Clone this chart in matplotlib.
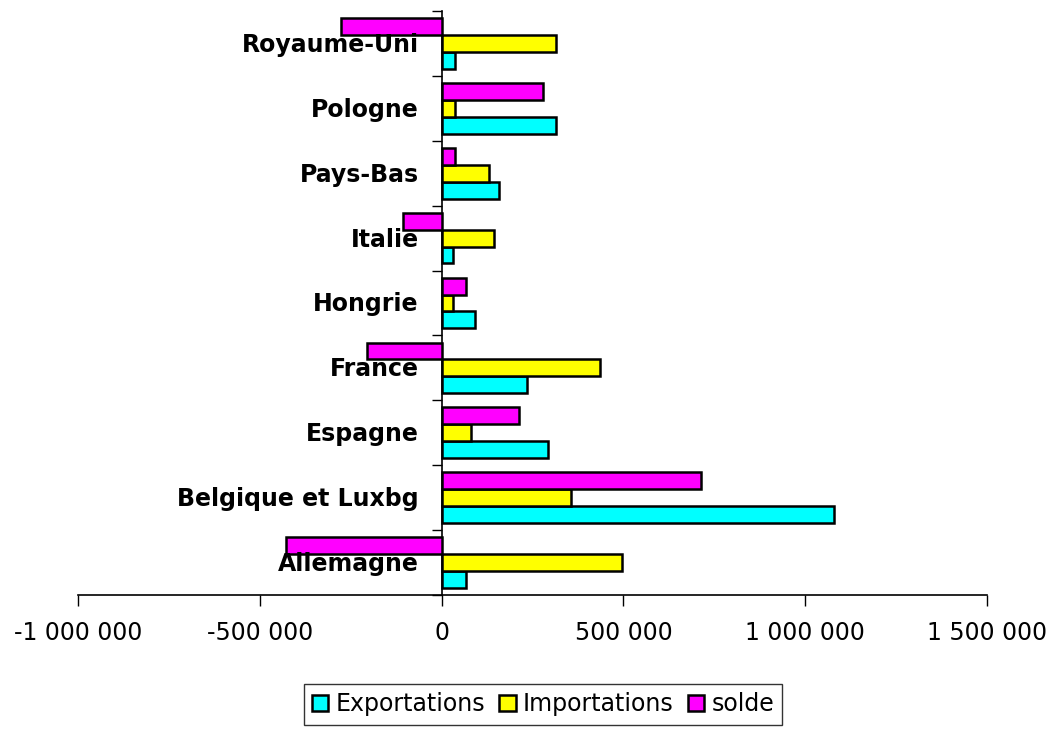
import numpy as np
import matplotlib.pyplot as plt
import matplotlib as mpl

mpl.rcParams['font.family'] = 'DejaVu Sans'
mpl.rcParams['font.size'] = 17

# Data
pays = ['Allemagne', 'Belgique et Luxbg', 'Espagne', 'France', 'Hongrie',
        'Italie', 'Pays-Bas', 'Pologne', 'Royaume-Uni']
exportations = [66000, 1080000, 294000, 236000, 93000, 30000, 157000, 316000, 38000]
importations = [495000, 357000, 80000, 437000, 30000, 143000, 129000, 38000, 316000]
solde = [-429000, 714000, 214000, -206000, 66000, -107000, 38000, 280000, -277000]
xticks = [-1000000, -500000, 0, 500000, 1000000, 1500000]

fig = plt.figure(figsize=(10.53, 7.29), dpi=100)
ax = fig.add_axes([78/1053, 1-595/729, 909/1053, 584/729])

y = np.arange(len(pays))
h = 0.26
kw = dict(height=h, edgecolor='black', linewidth=1.8, zorder=3)
ax.barh(y - h, exportations, color='#00ffff', label='Exportations', **kw)
ax.barh(y, importations, color='#ffff00', label='Importations', **kw)
ax.barh(y + h, solde, color='#ff00ff', label='solde', **kw)

ax.set_xlim(-1000000, 1500000)
ax.set_ylim(-0.5, len(pays) - 0.5)
ax.set_xticks(xticks)
ax.set_xticklabels([f'{v:,}'.replace(',', ' ') for v in xticks])

# category boundaries as ticks, names drawn left of the zero line
ax.set_yticks(np.arange(len(pays) + 1) - 0.5)
ax.set_yticklabels([])
ax.tick_params(axis='y', length=7, width=1, direction='out')
ax.tick_params(axis='x', length=8, width=1, pad=11)
for i, name in enumerate(pays):
    ax.annotate(name, xy=(0, i), xytext=(-16.5, -1), textcoords='offset points',
                ha='right', va='center', fontweight='bold', fontsize=17, zorder=5)

ax.spines['left'].set_position(('data', 0))
ax.spines['top'].set_visible(False)
ax.spines['right'].set_visible(False)
for s in ['left', 'bottom']:
    ax.spines[s].set_linewidth(1.2)

leg = fig.legend(loc='upper center', bbox_to_anchor=(543/1053, 1-684/729), ncol=3,
                 frameon=True, fancybox=False, edgecolor='black', borderaxespad=0,
                 handlelength=0.7, handleheight=0.7, handletextpad=0.3,
                 columnspacing=0.6, borderpad=0.35, fontsize=17)
leg.get_frame().set_linewidth(1.0)

plt.savefig('out.png', dpi=100)
